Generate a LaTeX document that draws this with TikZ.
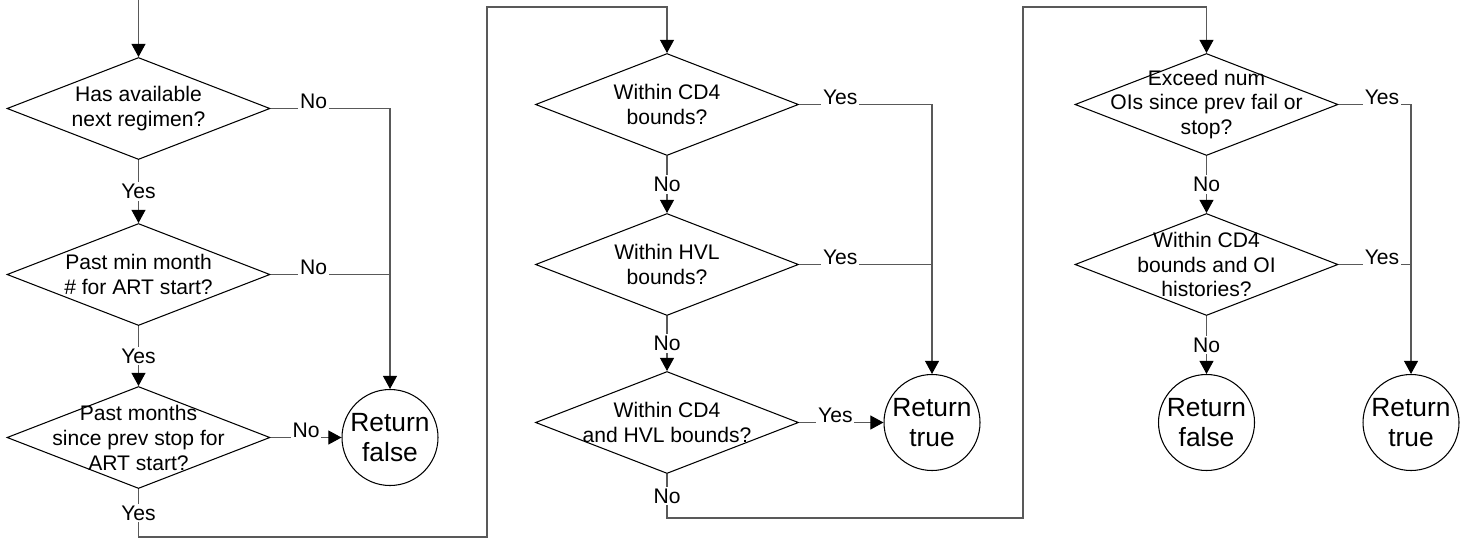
\documentclass[tikz,border=0pt]{standalone}
\usepackage{fontspec}
\setmainfont{Liberation Sans}
\usepackage{tikz}
\usetikzlibrary{positioning,arrows.meta,calc,shapes.geometric}
\usepackage{xcolor}

\begin{document}
\begin{tikzpicture}[>={Triangle[length=7.5pt,width=8pt,color=black]},
  every node/.style={font=\fontsize{12}{14.2}\selectfont},
  dec/.style={diamond,draw,line width=0.6pt,minimum width=5.26cm,minimum height=2.04cm,inner sep=0pt},
  term/.style={circle,draw,line width=0.6pt,minimum size=1.92cm,inner sep=0pt,align=center,font=\fontsize{15}{17.5}\selectfont},
  conn/.style={draw=black!65,line width=0.6pt},
  lab/.style={fill=white,inner sep=1pt}]
\useasboundingbox (0,0) rectangle (29.34,-10.82);
% first column
\coordinate (in) at (2.77,0);
\node[dec,label={[align=center]center:{Has available\\next regimen?}}] (d1) at (2.77,-2.17) {};
\node[dec,label={[align=center]center:{Past min month\\\# for ART start?}}] (d2) at (2.77,-5.49) {};
\node[dec,label={[align=center]center:{Past months\\since prev stop for\\ART start?}}] (d3) at (2.77,-8.75) {};
\node[term] (rf1) at (7.8,-8.75) {Return\\false};
\draw[conn,->] (in) -- (d1.north);
\draw[conn,->] (d1.south) -- node[lab]{Yes} (d2.north);
\draw[conn,->] (d2.south) -- node[lab]{Yes} (d3.north);
\draw[conn,->] (d1.east) -- node[lab,pos=.36,anchor=base]{No} (d1.east -| rf1.north) -- (rf1.north);
\draw[conn] (d2.east) -- node[lab,pos=.36,anchor=base]{No} (d2.east -| rf1.north);
\draw[conn,->] (d3.east) -- node[lab,pos=.5,anchor=base]{No} (rf1.west);
% second column
\node[dec,label={[align=center]center:{Within CD4\\bounds?}}] (d4) at (13.34,-2.09) {};
\node[dec,label={[align=center]center:{Within HVL\\bounds?}}] (d5) at (13.34,-5.29) {};
\node[dec,label={[align=center]center:{Within CD4\\and HVL bounds?}}] (d6) at (13.34,-8.45) {};
\node[term] (rt1) at (18.64,-8.45) {Return\\true};
\coordinate (c1) at (9.74,-10.74);
\coordinate (c2) at (9.74,-0.14);
\draw[conn,->] (d3.south) -- node[lab]{Yes} (d3.south |- c1) -- (c1) -- (c2) -| (d4.north);
\draw[conn,->] (d4.south) -- node[lab]{No} (d5.north);
\draw[conn,->] (d5.south) -- node[lab]{No} (d6.north);
\draw[conn,->] (d4.east) -- node[lab,pos=.31,anchor=base]{Yes} (d4.east -| rt1.north) -- (rt1.north);
\draw[conn] (d5.east) -- node[lab,pos=.31,anchor=base]{Yes} (d5.east -| rt1.north);
\draw[conn,->] (d6.east) -- node[lab,pos=.43,anchor=base]{Yes} (rt1.west);
% third column
\node[dec,label={[align=center]center:{Exceed num\\OIs since prev fail or\\stop?}}] (d7) at (24.13,-2.09) {};
\node[dec,label={[align=center]center:{Within CD4\\bounds and OI\\histories?}}] (d8) at (24.13,-5.29) {};
\node[term] (rf2) at (24.13,-8.45) {Return\\false};
\node[term] (rt2) at (28.22,-8.45) {Return\\true};
\coordinate (c3) at (20.46,-10.36);
\coordinate (c4) at (20.46,-0.14);
\draw[conn,->] (d6.south) -- node[lab]{No} (d6.south |- c3) -- (c3) -- (c4) -| (d7.north);
\draw[conn,->] (d7.south) -- node[lab]{No} (d8.north);
\draw[conn,->] (d8.south) -- node[lab]{No} (rf2.north);
\draw[conn,->] (d7.east) -- node[lab,pos=.6,anchor=base]{Yes} (d7.east -| rt2.north) -- (rt2.north);
\draw[conn] (d8.east) -- node[lab,pos=.6,anchor=base]{Yes} (d8.east -| rt2.north);
\end{tikzpicture}
\end{document}
